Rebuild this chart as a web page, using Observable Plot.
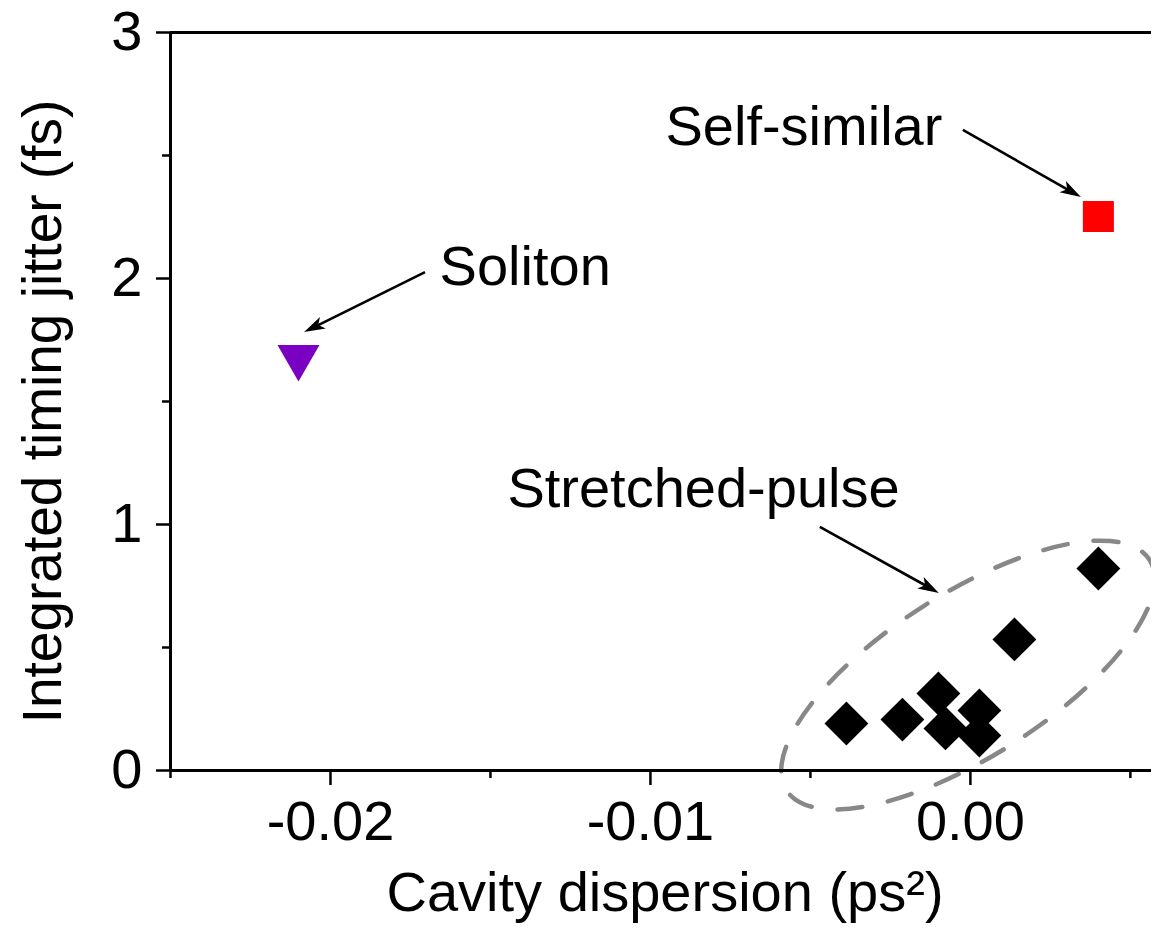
<!DOCTYPE html>
<html><head><meta charset="utf-8">
<script src="https://cdn.jsdelivr.net/npm/d3@7"></script>
<script src="https://cdn.jsdelivr.net/npm/@observablehq/plot@0.6"></script>
<style>body{margin:0;background:#fff}</style>
</head><body><div id="chart"></div>
<script>
// Data
const stretchedX = [-0.003875, -0.002125, -0.001, -0.00078, 0.00028, 0.00028, 0.001375, 0.004];
const stretchedY = [0.191, 0.207, 0.313, 0.171, 0.244, 0.142, 0.533, 0.821];
const solitonX = [-0.021];
const solitonY = [1.68];
const selfSimilarX = [0.004];
const selfSimilarY = [2.252];

const xMajorTicks = [-0.02, -0.01, 0.0];
const xTickLabels = ["-0.02", "-0.01", "0.00"];
const xMinorTicks = [-0.025, -0.015, -0.005, 0.005];
const yMajorTicks = [0, 1, 2, 3];
const yTickLabels = ["0", "1", "2", "3"];
const yMinorTicks = [0.5, 1.5, 2.5];

const annLabels = ["Soliton", "Self-similar", "Stretched-pulse"];
const annX = [-0.01659, -0.00953, -0.01447];
const annY = [1.972, 2.541, 1.073];
const arrowX1 = [-0.01703, -0.00022, -0.00469];
const arrowY1 = [2.024, 2.602, 0.988];
const arrowX2 = [-0.02081, 0.00347, -0.00097];
const arrowY2 = [1.780, 2.329, 0.720];

const ellipseCenterX = -0.00006, ellipseCenterY = 0.386;

const stretched = stretchedX.map((x, i) => ({x, y: stretchedY[i]}));
const soliton = solitonX.map((x, i) => ({x, y: solitonY[i]}));
const selfSimilar = selfSimilarX.map((x, i) => ({x, y: selfSimilarY[i]}));
const annotations = annLabels.map((t, i) => ({t, x: annX[i], y: annY[i]}));
const arrows = arrowX1.map((x1, i) => ({x1, y1: arrowY1[i], x2: arrowX2[i], y2: arrowY2[i]}));

function overlay(index, scales) {
  const X = scales.x, Y = scales.y;
  const g = d3.create("svg:g");
  const cx = X(ellipseCenterX), cy = Y(ellipseCenterY);
  g.append("ellipse")
    .attr("cx", cx).attr("cy", cy).attr("rx", 215).attr("ry", 82)
    .attr("transform", `rotate(-32.4 ${cx} ${cy})`)
    .attr("fill", "none").attr("stroke", "#888").attr("stroke-width", 4.5)
    .attr("stroke-dasharray", "25 26").attr("stroke-linecap", "round");
  for (const a of arrows) {
    const x1 = X(a.x1), y1 = Y(a.y1), x2 = X(a.x2), y2 = Y(a.y2);
    const dx = x2 - x1, dy = y2 - y1, len = Math.hypot(dx, dy);
    const ux = dx / len, uy = dy / len, nx = -uy, ny = ux;
    const L = 21, W = 6.5;
    g.append("line").attr("x1", x1).attr("y1", y1)
      .attr("x2", x2 - ux * L * 0.7).attr("y2", y2 - uy * L * 0.7)
      .attr("stroke", "#000").attr("stroke-width", 2.6);
    const pts = [
      [x2, y2],
      [x2 - ux * L + nx * W, y2 - uy * L + ny * W],
      [x2 - ux * L * 0.75, y2 - uy * L * 0.75],
      [x2 - ux * L - nx * W, y2 - uy * L - ny * W]
    ];
    g.append("path").attr("d", "M" + pts.map(p => p.join(",")).join("L") + "Z").attr("fill", "#000");
  }
  return g.node();
}

const chart = Plot.plot({
  width: 1151,
  height: 930,
  marginLeft: 170,
  marginRight: 0,
  marginTop: 32,
  marginBottom: 160,
  style: {fontFamily: "'Liberation Sans', Arial, sans-serif", color: "#000", background: "#fff"},
  x: {domain: [-0.025, 0.00566]},
  y: {domain: [0, 3]},
  marks: [
    overlay,
    Plot.ruleY([0], {strokeWidth: 3}),
    Plot.ruleY([3], {strokeWidth: 3}),
    Plot.ruleX([-0.025], {strokeWidth: 3}),
    Plot.axisX(xMajorTicks, {tickSize: 15, tickPadding: 15, strokeWidth: 2.5, fontSize: 56,
      tickFormat: d => xTickLabels[xMajorTicks.indexOf(d)], label: null}),
    Plot.axisX(xMinorTicks, {tickSize: 8, strokeWidth: 2.5, tickFormat: () => "", label: null}),
    Plot.axisY(yMajorTicks, {tickSize: 14, tickPadding: 14, strokeWidth: 2.5, fontSize: 56,
      tickFormat: d => yTickLabels[yMajorTicks.indexOf(d)], label: null}),
    Plot.axisY(yMinorTicks, {tickSize: 8, strokeWidth: 2.5, tickFormat: () => "", label: null}),
    Plot.dot(stretched, {x: "x", y: "y", symbol: "square", rotate: 45, r: 17.5, fill: "#000", stroke: "none"}),
    Plot.dot(soliton, {x: "x", y: "y", symbol: "triangle", rotate: 180, r: 15.6, fill: "#7a00c2", stroke: "none"}),
    Plot.dot(selfSimilar, {x: "x", y: "y", symbol: "square", r: 17.5, fill: "#ff0000", stroke: "none"}),
    Plot.text(annotations, {x: "x", y: "y", text: "t", textAnchor: "start", lineAnchor: "bottom", fontSize: 56, fill: "#000"}),
    Plot.text(["Cavity dispersion (ps\u00b2)"], {frameAnchor: "bottom", textAnchor: "middle", dx: 4, dy: 140, lineAnchor: "bottom", fontSize: 56, fill: "#000"}),
    Plot.text(["Integrated timing jitter (fs)"], {frameAnchor: "left", textAnchor: "middle", dx: -127, dy: 10, rotate: -90, lineAnchor: "middle", fontSize: 55, fill: "#000"})
  ]
});
document.getElementById("chart").appendChild(chart);
</script>
</body></html>
